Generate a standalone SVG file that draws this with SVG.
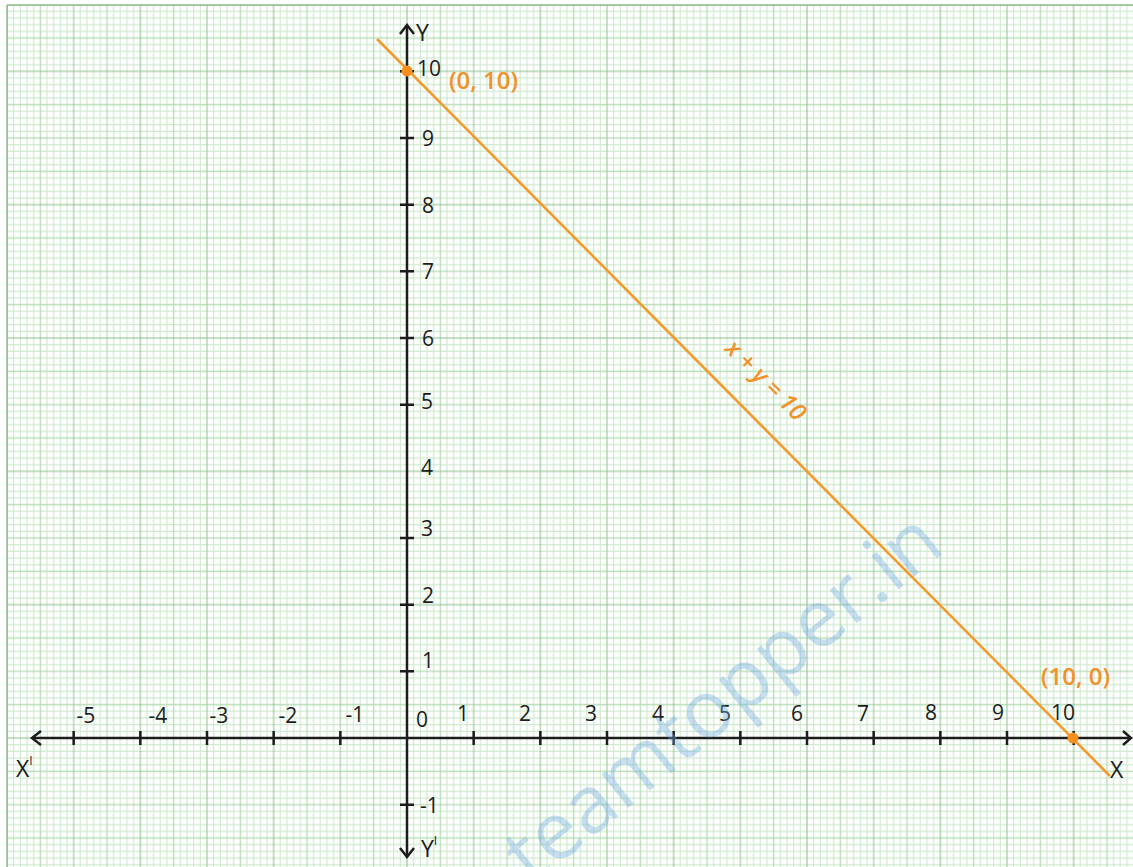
<svg xmlns="http://www.w3.org/2000/svg" width="1133" height="867" viewBox="0 0 1133 867">
<style>
.ax{stroke:#1c1c1c;stroke-width:2.5;fill:none;stroke-linecap:butt}
.lbl{font-family:"Open Sans","DejaVu Sans",sans-serif;font-size:21px;fill:#1c1c1c}
.axl{font-family:"Open Sans","DejaVu Sans",sans-serif;font-size:23px;fill:#1c1c1c}
.or{font-family:"Open Sans","DejaVu Sans",sans-serif;font-size:24px;font-weight:600;fill:#f0922a}
</style>
<defs>
<pattern id="grid" patternUnits="userSpaceOnUse" x="407" y="738" width="133.333" height="133.333">
<path d="M6.667 0V133.333M13.333 0V133.333M20 0V133.333M26.667 0V133.333M40 0V133.333M46.667 0V133.333M53.333 0V133.333M60 0V133.333M73.333 0V133.333M80 0V133.333M86.667 0V133.333M93.333 0V133.333M106.667 0V133.333M113.333 0V133.333M120 0V133.333M126.667 0V133.333M0 6.667H133.333M0 13.333H133.333M0 20H133.333M0 26.667H133.333M0 40H133.333M0 46.667H133.333M0 53.333H133.333M0 60H133.333M0 73.333H133.333M0 80H133.333M0 86.667H133.333M0 93.333H133.333M0 106.667H133.333M0 113.333H133.333M0 120H133.333M0 126.667H133.333" stroke="#d0e9d0" stroke-width="1.2" fill="none"/>
<path d="M33.333 0V133.333M100 0V133.333M0 33.333H133.333M0 100H133.333" stroke="#b8ddb8" stroke-width="1.4" fill="none"/>
<path d="M66.667 0V133.333M0 66.667H133.333" stroke="#a3cfa3" stroke-width="1.2" fill="none"/>
<path d="M0 0V133.333M133.333 0V133.333M0 0H133.333M0 133.333H133.333" stroke="#8bbd8b" stroke-width="1" fill="none"/>
</pattern>
</defs>
<rect x="0" y="0" width="1133" height="867" fill="#ffffff"/>
<rect x="7" y="5" width="1126" height="862" fill="url(#grid)"/>
<path d="M7 5H1133M7 5V867" stroke="#8bbd8b" stroke-width="1.5" fill="none"/>

<g id="axes">
<path class="ax" d="M32 738H1131M407 25V857"/>
<path class="ax" d="M41 731L32 738L41 745M1123 731L1131 738L1123 745M400 34L407 25L414 34M400 848L407 857L414 848"/>
<path class="ax" d="M73.67 731V745M140.33 731V745M207 731V745M273.67 731V745M340.33 731V745M473.67 731V745M540.33 731V745M607 731V745M673.67 731V745M740.33 731V745M807 731V745M873.67 731V745M940.33 731V745M1007 731V745M1073.67 731V745"/>
<path class="ax" d="M400 71.33H414M400 138H414M400 204.67H414M400 271.33H414M400 338H414M400 404.67H414M400 538H414M400 604.67H414M400 671.33H414M400 804.67H414"/>
</g>

<g id="x-labels" class="lbl" text-anchor="middle">
<text x="86" y="723">-5</text>
<text x="158" y="723">-4</text>
<text x="219" y="723">-3</text>
<text x="288" y="723">-2</text>
<text x="355" y="722">-1</text>
<text x="422" y="727">0</text>
<text x="463" y="721">1</text>
<text x="525" y="721">2</text>
<text x="591" y="721">3</text>
<text x="658" y="721">4</text>
<text x="725" y="721">5</text>
<text x="797" y="721">6</text>
<text x="863" y="721">7</text>
<text x="931" y="720">8</text>
<text x="998" y="720">9</text>
<text x="1063" y="720">10</text>
</g>

<g id="y-labels" class="lbl">
<text x="417" y="76">10</text>
<text x="422" y="146">9</text>
<text x="422" y="213">8</text>
<text x="422" y="279">7</text>
<text x="422" y="346">6</text>
<text x="421" y="409">5</text>
<text x="421" y="475">4</text>
<text x="421" y="536">3</text>
<text x="422" y="603">2</text>
<text x="422" y="668">1</text>
<text x="420" y="813">-1</text>
</g>

<g id="axis-names" class="axl">
<text x="416" y="41">Y</text>
<text x="421" y="857">Y<tspan font-size="12" dy="-12">I</tspan></text>
<text x="16" y="777">X<tspan font-size="12" dy="-12">I</tspan></text>
<text x="1110" y="778">X</text>
</g>

<g id="connectors">
<line x1="377" y1="39" x2="1110" y2="776" stroke="#f39a2b" stroke-width="2.6"/>
</g>

<g id="point-0-10">
<circle cx="407" cy="71" r="5.5" fill="#f5901e"/>
<text class="or" x="449" y="89">(0, 10)</text>
</g>

<g id="point-10-0">
<circle cx="1073" cy="738" r="5.5" fill="#f5901e"/>
<text class="or" x="1041" y="685">(10, 0)</text>
</g>

<g id="line-label">
<text class="or" font-weight="400" font-style="italic" font-size="25" text-anchor="middle" transform="translate(760,386) rotate(45)" x="0" y="0">x + y = 10</text>
</g>

<g id="watermark">
<text x="0" y="0" text-anchor="end" transform="translate(947,550) rotate(-39)" font-family="'Open Sans','DejaVu Sans',sans-serif" font-size="80" fill="#6fa8dc" fill-opacity="0.38">teamtopper.in</text>
</g>
</svg>
